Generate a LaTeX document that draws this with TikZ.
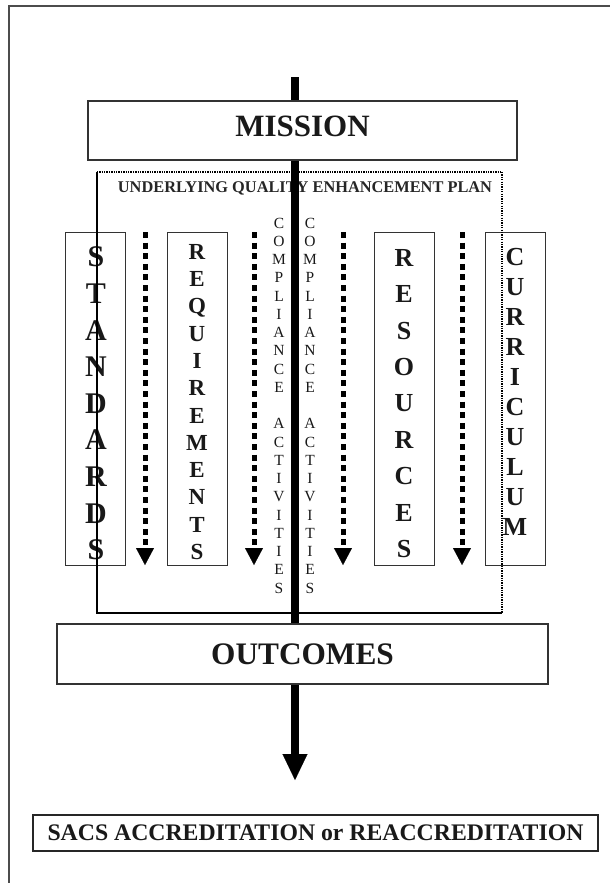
\documentclass[tikz,border=0pt]{standalone}
\usepackage{fontspec}
\setmainfont{Liberation Serif}
\usetikzlibrary{arrows.meta}
\begin{document}
\begin{tikzpicture}[x=1pt,y=-1pt,
  frame/.style={draw=black!70, line width=1.3pt},
  bigbox/.style={draw=black!80, line width=1.2pt, fill=white, inner sep=0pt, text=black!90},
  colbox/.style={draw=black!80, line width=0.9pt, minimum width=60pt, minimum height=333pt, inner sep=0pt},
  stack/.style={align=center, inner sep=0pt, text=black!90},
  dotarrow/.style={line width=5pt, dash pattern=on 6pt off 4.6pt, -{Triangle[width=18pt,length=17pt,line width=0.1pt]}},
  mainarrow/.style={line width=8.5pt, -{Triangle[width=25pt,length=26pt,line width=0.1pt]}},
  qepdot/.style={line width=1.6pt, dash pattern=on 1.3pt off 1.1pt},
  qepsolid/.style={line width=1.6pt}
]
\useasboundingbox (0,0) rectangle (610,883);
% outer frame (cut by the page edges)
\draw[frame] (9,883) -- (9,6) -- (610,6);

% column boxes
\node[colbox] (stdbox) at (95,398.5) {};
\node[colbox] (reqbox) at (197,398.5) {};
\node[colbox] (resbox) at (404,398.5) {};
\node[colbox] (curbox) at (515,398.5) {};

\node[stack, font=\fontsize{30}{36.6}\selectfont\bfseries] (stdtext) at (96,403.5)
  {S\\T\\A\\N\\D\\A\\R\\D\\S};
\node[stack, font=\fontsize{23}{27.3}\selectfont\bfseries] (reqtext) at (197,402)
  {R\\E\\Q\\U\\I\\R\\E\\M\\E\\N\\T\\S};
\node[stack, font=\fontsize{26}{36.4}\selectfont\bfseries] (restext) at (404,403.5)
  {R\\E\\S\\O\\U\\R\\C\\E\\S};
\node[stack, font=\fontsize{26}{30}\selectfont\bfseries] (curtext) at (515,392)
  {C\\U\\R\\R\\I\\C\\U\\L\\U\\M};

% compliance activities (two columns)
\node[stack, font=\fontsize{15.5}{18.25}\selectfont] (compl) at (279,405.5)
  {C\\O\\M\\P\\L\\I\\A\\N\\C\\E\\~\\A\\C\\T\\I\\V\\I\\T\\I\\E\\S};
\node[stack, font=\fontsize{15.5}{18.25}\selectfont] (compr) at (310,405.5)
  {C\\O\\M\\P\\L\\I\\A\\N\\C\\E\\~\\A\\C\\T\\I\\V\\I\\T\\I\\E\\S};

% dotted arrows
\foreach \n/\x in {a/145,b/254,c/343,d/462}{
  \coordinate (\n top) at (\x,232);
  \coordinate (\n bot) at (\x,565);
  \draw[dotarrow] (\n top) -- (\n bot);
}

% quality enhancement plan frame
\node[minimum width=405pt, minimum height=441pt, inner sep=0pt] (qep) at (299.5,392.5) {};
\draw[qepdot] (qep.north west) -- (qep.north east) -- (qep.south east);
\draw[qepsolid] (qep.north west) -- (qep.south west) -- (qep.south east);
\node[font=\fontsize{16.35}{19}\selectfont\bfseries, text=black!85, inner sep=0pt] (qeptitle) at (305,188)
  {UNDERLYING QUALITY ENHANCEMENT PLAN};

% main arrow
\coordinate (maintop) at (295,77);
\coordinate (maintip) at (295,780);
\draw[mainarrow] (maintop) -- (maintip);

% mission and outcomes
\node[bigbox, minimum width=429pt, minimum height=59pt, text depth=8pt,
      font=\fontsize{31}{36}\selectfont\bfseries] (mission) at (302.5,130.5) {MISSION};
\node[bigbox, minimum width=491pt, minimum height=60pt,
      font=\fontsize{31.3}{36}\selectfont\bfseries] (outcomes) at (302.5,654) {OUTCOMES};

% SACS
\node[draw=black!85, line width=2pt, minimum width=565pt, minimum height=36pt, inner sep=0pt,
      font=\fontsize{23.75}{27}\selectfont\bfseries, text=black!90] (sacs) at (315.5,833)
  {SACS ACCREDITATION or REACCREDITATION};
\end{tikzpicture}
\end{document}
